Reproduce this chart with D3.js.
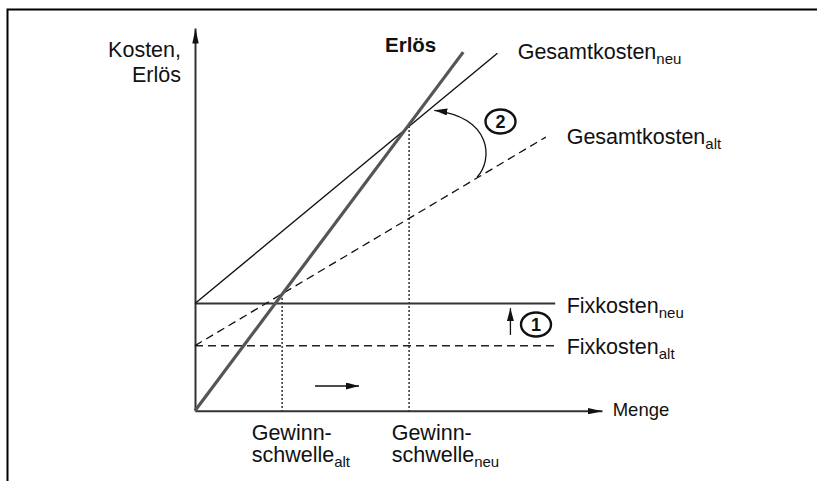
<!DOCTYPE html>
<html>
<head>
<meta charset="utf-8">
<script src="https://cdn.jsdelivr.net/npm/d3@7"></script>
<style>
  body { margin: 0; background: #fff; }
  text { font-family: "Liberation Sans", Arial, sans-serif; fill: #111; }
</style>
</head>
<body>
<svg id="chart" width="817" height="481"></svg>
<script>
// Break-even chart, values in arbitrary units (x: Menge 0..100, y: Kosten/Erlös 0..100)
const fixkostenAlt = 17;
const fixkostenNeu = 28;
const erloesLine = [[0, 0], [65.9, 93.7]];
const gesamtNeuLine = [[0, 28], [74.3, 93.4]];
const gesamtAltLine = [[0, 17], [86.2, 71.5]];
const fixEnd = 88.5;
const gewinnschwellen = [
  { name: "alt", x: 21.4, y: 30.5 },
  { name: "neu", x: 52.6, y: 74.4 },
];
const yLabel = ["Kosten,", "Erlös"];
const xLabel = "Menge";

const svg = d3.select("#chart");
const x = d3.scaleLinear().domain([0, 100]).range([195, 602]);
const y = d3.scaleLinear().domain([0, 100]).range([410.7, 28]);

// frame
svg.append("path")
  .attr("d", "M7.5,481V9.5H817")
  .attr("fill", "none")
  .attr("stroke", "#000")
  .attr("stroke-width", 2);

const defs = svg.append("defs");
// arrow head whose tip sits on the end of the path
const marker = (id, len, half) =>
  defs.append("marker")
    .attr("id", id)
    .attr("viewBox", `0 ${-half} ${len} ${half * 2}`)
    .attr("refX", len)
    .attr("refY", 0)
    .attr("markerUnits", "userSpaceOnUse")
    .attr("markerWidth", len)
    .attr("markerHeight", half * 2)
    .attr("orient", "auto")
    .append("path")
    .attr("d", `M0,${-half}L${len},0L0,${half}Z`)
    .attr("fill", "#111");
marker("axisHead", 15, 3.2);
marker("smallHead", 13, 3.5);

// axes, no ticks
const xAxis = svg.append("g")
  .attr("transform", `translate(0,${y(0)})`)
  .call(d3.axisBottom(x).ticks(0).tickSizeOuter(0));
const yAxis = svg.append("g")
  .attr("transform", `translate(${x(0)},0)`)
  .call(d3.axisLeft(y).ticks(0).tickSizeOuter(0));
[xAxis, yAxis].forEach((a) =>
  a.select(".domain")
    .attr("stroke", "#333")
    .attr("stroke-width", 2)
    .attr("marker-end", "url(#axisHead)")
);

const line = d3.line().x((d) => x(d[0])).y((d) => y(d[1]));

// dotted drop lines for the break-even points
svg.selectAll(".drop")
  .data(gewinnschwellen)
  .enter()
  .append("line")
  .attr("x1", (d) => x(d.x))
  .attr("x2", (d) => x(d.x))
  .attr("y1", (d) => y(d.y))
  .attr("y2", y(0))
  .attr("stroke", "#111")
  .attr("stroke-width", 1.3)
  .attr("stroke-dasharray", "2,2");

// fixed costs
svg.append("path")
  .attr("d", line([[0, fixkostenAlt], [fixEnd, fixkostenAlt]]))
  .attr("stroke", "#222")
  .attr("stroke-width", 1.5)
  .attr("stroke-dasharray", "8,5");
svg.append("path")
  .attr("d", line([[0, fixkostenNeu], [fixEnd, fixkostenNeu]]))
  .attr("stroke", "#333")
  .attr("stroke-width", 2);

// total costs
svg.append("path")
  .attr("d", line(gesamtAltLine))
  .attr("stroke", "#111")
  .attr("stroke-width", 1.3)
  .attr("stroke-dasharray", "8,5");
svg.append("path")
  .attr("d", line(gesamtNeuLine))
  .attr("stroke", "#111")
  .attr("stroke-width", 1.4);

// revenue
svg.append("path")
  .attr("d", line(erloesLine))
  .attr("stroke", "#555")
  .attr("stroke-width", 3.2);

// annotation 1: upward arrow
svg.append("line")
  .attr("x1", x(77.5)).attr("y1", y(19.8))
  .attr("x2", x(77.5)).attr("y2", y(26.8))
  .attr("stroke", "#111")
  .attr("stroke-width", 1.3)
  .attr("marker-end", "url(#smallHead)");

// annotation 2: curved arrow from old to new total cost line
svg.append("path")
  .attr("d", `M${x(69.3)},${y(61)}C${x(73.2)},${y(65.5)} ${x(73.2)},${y(76.5)} ${x(58.8)},${y(78.5)}`)
  .attr("fill", "none")
  .attr("stroke", "#111")
  .attr("stroke-width", 1.3)
  .attr("marker-end", "url(#smallHead)");

// shift arrow
svg.append("line")
  .attr("x1", x(29.5)).attr("y1", y(6.45))
  .attr("x2", x(40.3)).attr("y2", y(6.45))
  .attr("stroke", "#111")
  .attr("stroke-width", 1.5)
  .attr("marker-end", "url(#smallHead)");

const badges = [
  { label: "1", cx: 536, cy: 324.5 },
  { label: "2", cx: 500.5, cy: 121.5 },
];
badges.forEach((b) => {
  svg.append("ellipse")
    .attr("cx", b.cx).attr("cy", b.cy)
    .attr("rx", 15).attr("ry", 12)
    .attr("fill", "#fff")
    .attr("stroke", "#111")
    .attr("stroke-width", 2.4);
  svg.append("text")
    .attr("x", b.cx).attr("y", b.cy + 6.5)
    .attr("text-anchor", "middle")
    .attr("font-size", 18)
    .attr("font-weight", "bold")
    .text(b.label);
});

// labels
const fs = 21.5;
yLabel.forEach((t, i) =>
  svg.append("text")
    .attr("x", 181).attr("y", 56.5 + i * 25)
    .attr("text-anchor", "end")
    .attr("font-size", fs)
    .text(t)
);

svg.append("text")
  .attr("x", 385).attr("y", 52.3)
  .attr("font-size", 20.5)
  .attr("font-weight", "bold")
  .text("Erlös");

const subLabel = (tx, ty, main, sub) => {
  const t = svg.append("text").attr("x", tx).attr("y", ty).attr("font-size", fs);
  t.append("tspan").text(main);
  t.append("tspan").attr("dy", 5).attr("font-size", 15).text(sub);
};
subLabel(517.7, 59, "Gesamtkosten", "neu");
subLabel(566.7, 144, "Gesamtkosten", "alt");
subLabel(566.7, 313, "Fixkosten", "neu");
subLabel(566.7, 354, "Fixkosten", "alt");

svg.append("text")
  .attr("x", 612.7).attr("y", 416)
  .attr("font-family", "'Noto Sans', sans-serif")
  .attr("font-size", 18.5)
  .text(xLabel);

const gewinnLeft = { alt: 251.7, neu: 391.7 };
gewinnschwellen.forEach((g) => {
  const left = gewinnLeft[g.name];
  svg.append("text")
    .attr("x", left).attr("y", 440)
    .attr("font-size", fs)
    .text("Gewinn-");
  subLabel(left, 461.7, "schwelle", g.name);
});
</script>
</body>
</html>
